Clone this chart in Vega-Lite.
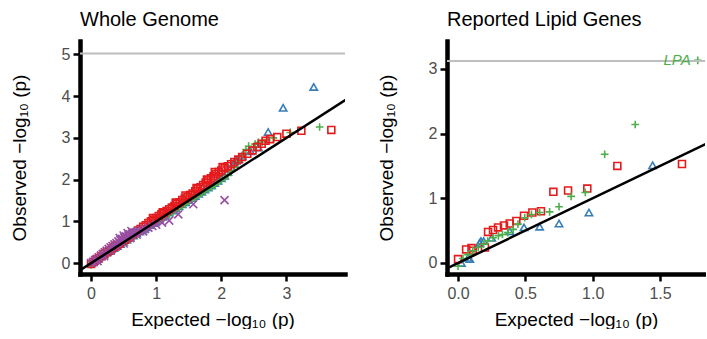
{
  "$schema": "https://vega.github.io/schema/vega-lite/v6.json",
  "padding": {"left": 10, "top": 10, "right": 0, "bottom": 0},
  "background": "white",
  "spacing": 31,
  "config": {
    "view": {"stroke": null},
    "font": "Liberation Sans",
    "axis": {"domainColor": "black", "domainWidth": 4.5, "tickColor": "black", "tickWidth": 2.5, "tickSize": 7, "grid": false}
  },
  "datasets": {
    "diag": [{"e": -1, "o": -1}, {"e": 5, "o": 5}],
    "wg": [
      {"g": "B", "e": 0.00, "o": 0.01}, {"g": "B", "e": 0.05, "o": 0.05}, {"g": "B", "e": 0.10, "o": 0.10}, {"g": "B", "e": 0.15, "o": 0.16},
      {"g": "B", "e": 0.20, "o": 0.21}, {"g": "B", "e": 0.25, "o": 0.26}, {"g": "B", "e": 0.30, "o": 0.31}, {"g": "B", "e": 0.35, "o": 0.36},
      {"g": "B", "e": 0.40, "o": 0.41}, {"g": "B", "e": 0.45, "o": 0.46}, {"g": "B", "e": 0.50, "o": 0.51}, {"g": "B", "e": 0.55, "o": 0.56},
      {"g": "B", "e": 0.60, "o": 0.61}, {"g": "B", "e": 0.65, "o": 0.66}, {"g": "B", "e": 0.70, "o": 0.71}, {"g": "B", "e": 0.75, "o": 0.76},
      {"g": "B", "e": 0.80, "o": 0.81}, {"g": "B", "e": 0.85, "o": 0.86}, {"g": "B", "e": 0.90, "o": 0.91}, {"g": "B", "e": 0.95, "o": 0.96},
      {"g": "B", "e": 1.00, "o": 1.01}, {"g": "B", "e": 1.05, "o": 1.06}, {"g": "B", "e": 1.10, "o": 1.11}, {"g": "B", "e": 1.15, "o": 1.16},
      {"g": "B", "e": 1.20, "o": 1.21}, {"g": "B", "e": 1.25, "o": 1.26}, {"g": "B", "e": 1.30, "o": 1.31}, {"g": "B", "e": 1.35, "o": 1.36},
      {"g": "B", "e": 1.40, "o": 1.41}, {"g": "B", "e": 1.45, "o": 1.46}, {"g": "B", "e": 1.50, "o": 1.51}, {"g": "B", "e": 1.55, "o": 1.56},
      {"g": "B", "e": 1.60, "o": 1.61}, {"g": "B", "e": 1.65, "o": 1.66}, {"g": "B", "e": 1.70, "o": 1.71}, {"g": "B", "e": 1.75, "o": 1.76},
      {"g": "B", "e": 1.80, "o": 1.81}, {"g": "B", "e": 1.85, "o": 1.86}, {"g": "B", "e": 1.90, "o": 1.92}, {"g": "B", "e": 1.95, "o": 1.97},
      {"g": "B", "e": 2.00, "o": 2.03}, {"g": "B", "e": 2.05, "o": 2.09}, {"g": "B", "e": 2.10, "o": 2.18}, {"g": "B", "e": 2.15, "o": 2.30},
      {"g": "B", "e": 2.19, "o": 2.40}, {"g": "B", "e": 2.23, "o": 2.45}, {"g": "B", "e": 2.27, "o": 2.49}, {"g": "B", "e": 2.32, "o": 2.57},
      {"g": "B", "e": 2.45, "o": 2.68}, {"g": "B", "e": 2.57, "o": 2.77}, {"g": "B", "e": 2.72, "o": 3.14}, {"g": "B", "e": 2.95, "o": 3.72},
      {"g": "B", "e": 3.42, "o": 4.22},
      {"g": "C", "e": 0.00, "o": -0.04}, {"g": "C", "e": 0.05, "o": 0.02}, {"g": "C", "e": 0.10, "o": 0.08}, {"g": "C", "e": 0.15, "o": 0.13},
      {"g": "C", "e": 0.20, "o": 0.18}, {"g": "C", "e": 0.25, "o": 0.23}, {"g": "C", "e": 0.30, "o": 0.28}, {"g": "C", "e": 0.35, "o": 0.33},
      {"g": "C", "e": 0.40, "o": 0.38}, {"g": "C", "e": 0.45, "o": 0.43}, {"g": "C", "e": 0.50, "o": 0.48}, {"g": "C", "e": 0.55, "o": 0.53},
      {"g": "C", "e": 0.60, "o": 0.58}, {"g": "C", "e": 0.65, "o": 0.63}, {"g": "C", "e": 0.70, "o": 0.68}, {"g": "C", "e": 0.75, "o": 0.73},
      {"g": "C", "e": 0.80, "o": 0.78}, {"g": "C", "e": 0.85, "o": 0.83}, {"g": "C", "e": 0.90, "o": 0.88}, {"g": "C", "e": 0.95, "o": 0.93},
      {"g": "C", "e": 1.00, "o": 0.98}, {"g": "C", "e": 1.05, "o": 1.02}, {"g": "C", "e": 1.10, "o": 1.07}, {"g": "C", "e": 1.15, "o": 1.12},
      {"g": "C", "e": 1.20, "o": 1.17}, {"g": "C", "e": 1.25, "o": 1.22}, {"g": "C", "e": 1.30, "o": 1.27}, {"g": "C", "e": 1.35, "o": 1.32},
      {"g": "C", "e": 1.40, "o": 1.37}, {"g": "C", "e": 1.45, "o": 1.42}, {"g": "C", "e": 1.50, "o": 1.47}, {"g": "C", "e": 1.55, "o": 1.52},
      {"g": "C", "e": 1.60, "o": 1.57}, {"g": "C", "e": 1.65, "o": 1.62}, {"g": "C", "e": 1.70, "o": 1.67}, {"g": "C", "e": 1.75, "o": 1.72},
      {"g": "C", "e": 1.80, "o": 1.77}, {"g": "C", "e": 1.85, "o": 1.82}, {"g": "C", "e": 1.90, "o": 1.87}, {"g": "C", "e": 1.95, "o": 1.93},
      {"g": "C", "e": 2.00, "o": 1.98}, {"g": "C", "e": 2.05, "o": 2.04}, {"g": "C", "e": 2.10, "o": 2.10}, {"g": "C", "e": 2.15, "o": 2.20},
      {"g": "C", "e": 2.20, "o": 2.30}, {"g": "C", "e": 2.27, "o": 2.45}, {"g": "C", "e": 2.33, "o": 2.60}, {"g": "C", "e": 2.38, "o": 2.72},
      {"g": "C", "e": 2.42, "o": 2.80}, {"g": "C", "e": 2.50, "o": 2.77}, {"g": "C", "e": 2.52, "o": 2.85}, {"g": "C", "e": 2.57, "o": 2.89},
      {"g": "C", "e": 2.63, "o": 2.90}, {"g": "C", "e": 2.70, "o": 2.95}, {"g": "C", "e": 2.80, "o": 3.00}, {"g": "C", "e": 3.06, "o": 3.13},
      {"g": "C", "e": 3.51, "o": 3.26},
      {"g": "A", "e": 0.00, "o": -0.02}, {"g": "A", "e": 0.04, "o": 0.03}, {"g": "A", "e": 0.08, "o": 0.08}, {"g": "A", "e": 0.12, "o": 0.12},
      {"g": "A", "e": 0.16, "o": 0.17}, {"g": "A", "e": 0.20, "o": 0.22}, {"g": "A", "e": 0.24, "o": 0.26}, {"g": "A", "e": 0.28, "o": 0.30},
      {"g": "A", "e": 0.32, "o": 0.35}, {"g": "A", "e": 0.36, "o": 0.39}, {"g": "A", "e": 0.40, "o": 0.43}, {"g": "A", "e": 0.44, "o": 0.47},
      {"g": "A", "e": 0.48, "o": 0.52}, {"g": "A", "e": 0.52, "o": 0.56}, {"g": "A", "e": 0.56, "o": 0.60}, {"g": "A", "e": 0.60, "o": 0.64},
      {"g": "A", "e": 0.64, "o": 0.69}, {"g": "A", "e": 0.68, "o": 0.73}, {"g": "A", "e": 0.72, "o": 0.78}, {"g": "A", "e": 0.76, "o": 0.82},
      {"g": "A", "e": 0.80, "o": 0.87}, {"g": "A", "e": 0.84, "o": 0.91}, {"g": "A", "e": 0.88, "o": 0.96}, {"g": "A", "e": 0.92, "o": 1.00},
      {"g": "A", "e": 0.96, "o": 1.04}, {"g": "A", "e": 1.00, "o": 1.08}, {"g": "A", "e": 1.04, "o": 1.13}, {"g": "A", "e": 1.08, "o": 1.17},
      {"g": "A", "e": 1.12, "o": 1.21}, {"g": "A", "e": 1.16, "o": 1.25}, {"g": "A", "e": 1.20, "o": 1.29}, {"g": "A", "e": 1.24, "o": 1.33},
      {"g": "A", "e": 1.28, "o": 1.37}, {"g": "A", "e": 1.32, "o": 1.42}, {"g": "A", "e": 1.36, "o": 1.46}, {"g": "A", "e": 1.40, "o": 1.51},
      {"g": "A", "e": 1.44, "o": 1.55}, {"g": "A", "e": 1.48, "o": 1.59}, {"g": "A", "e": 1.52, "o": 1.63}, {"g": "A", "e": 1.56, "o": 1.67},
      {"g": "A", "e": 1.60, "o": 1.72}, {"g": "A", "e": 1.64, "o": 1.77}, {"g": "A", "e": 1.68, "o": 1.82}, {"g": "A", "e": 1.72, "o": 1.87},
      {"g": "A", "e": 1.76, "o": 1.93}, {"g": "A", "e": 1.80, "o": 1.98}, {"g": "A", "e": 1.84, "o": 2.03}, {"g": "A", "e": 1.88, "o": 2.08},
      {"g": "A", "e": 1.92, "o": 2.13}, {"g": "A", "e": 1.96, "o": 2.18}, {"g": "A", "e": 2.00, "o": 2.22}, {"g": "A", "e": 2.05, "o": 2.27},
      {"g": "A", "e": 2.10, "o": 2.32}, {"g": "A", "e": 2.15, "o": 2.37}, {"g": "A", "e": 2.20, "o": 2.42}, {"g": "A", "e": 2.26, "o": 2.48},
      {"g": "A", "e": 2.32, "o": 2.54}, {"g": "A", "e": 2.40, "o": 2.62}, {"g": "A", "e": 2.48, "o": 2.70}, {"g": "A", "e": 2.55, "o": 2.78},
      {"g": "A", "e": 2.62, "o": 2.86}, {"g": "A", "e": 2.68, "o": 2.93}, {"g": "A", "e": 2.75, "o": 2.97}, {"g": "A", "e": 2.86, "o": 3.02},
      {"g": "A", "e": 3.00, "o": 3.10}, {"g": "A", "e": 3.23, "o": 3.17}, {"g": "A", "e": 3.69, "o": 3.19},
      {"g": "A", "e": 1.30, "o": 1.45}, {"g": "A", "e": 1.45, "o": 1.62}, {"g": "A", "e": 1.62, "o": 1.80}, {"g": "A", "e": 1.78, "o": 2.00},
      {"g": "A", "e": 1.90, "o": 2.18}, {"g": "A", "e": 2.02, "o": 2.30}, {"g": "A", "e": 1.10, "o": 1.22}, {"g": "A", "e": 0.95, "o": 1.08},
      {"g": "D", "e": 0.00, "o": 0.00}, {"g": "D", "e": 0.03, "o": 0.03}, {"g": "D", "e": 0.06, "o": 0.07}, {"g": "D", "e": 0.09, "o": 0.10},
      {"g": "D", "e": 0.12, "o": 0.14}, {"g": "D", "e": 0.15, "o": 0.18}, {"g": "D", "e": 0.18, "o": 0.22}, {"g": "D", "e": 0.21, "o": 0.26},
      {"g": "D", "e": 0.24, "o": 0.30}, {"g": "D", "e": 0.27, "o": 0.34}, {"g": "D", "e": 0.30, "o": 0.38}, {"g": "D", "e": 0.33, "o": 0.41},
      {"g": "D", "e": 0.36, "o": 0.45}, {"g": "D", "e": 0.39, "o": 0.48}, {"g": "D", "e": 0.42, "o": 0.52}, {"g": "D", "e": 0.45, "o": 0.55},
      {"g": "D", "e": 0.48, "o": 0.58}, {"g": "D", "e": 0.51, "o": 0.61}, {"g": "D", "e": 0.54, "o": 0.64}, {"g": "D", "e": 0.57, "o": 0.66},
      {"g": "D", "e": 0.60, "o": 0.69}, {"g": "D", "e": 0.63, "o": 0.71}, {"g": "D", "e": 0.66, "o": 0.73}, {"g": "D", "e": 0.70, "o": 0.75},
      {"g": "D", "e": 0.74, "o": 0.77}, {"g": "D", "e": 0.78, "o": 0.79}, {"g": "D", "e": 0.83, "o": 0.82}, {"g": "D", "e": 0.88, "o": 0.85},
      {"g": "D", "e": 0.94, "o": 0.89}, {"g": "D", "e": 1.00, "o": 0.92}, {"g": "D", "e": 1.09, "o": 0.97}, {"g": "D", "e": 1.20, "o": 1.02},
      {"g": "D", "e": 1.34, "o": 1.17}, {"g": "D", "e": 1.57, "o": 1.41}, {"g": "D", "e": 2.05, "o": 1.51},
      {"g": "D", "e": 0.10, "o": 0.05}, {"g": "D", "e": 0.20, "o": 0.17}, {"g": "D", "e": 0.30, "o": 0.30}, {"g": "D", "e": 0.38, "o": 0.40},
      {"g": "D", "e": 0.44, "o": 0.60}, {"g": "D", "e": 0.50, "o": 0.66}, {"g": "D", "e": 0.56, "o": 0.72}, {"g": "D", "e": 0.62, "o": 0.77},
      {"g": "D", "e": 0.50, "o": 0.47}, {"g": "D", "e": 0.60, "o": 0.60}, {"g": "D", "e": 0.70, "o": 0.68}, {"g": "D", "e": 0.80, "o": 0.76}
    ],
    "lipid": [
      {"g": "B", "e": 0.025, "o": 0.00}, {"g": "B", "e": 0.074, "o": 0.08}, {"g": "B", "e": 0.087, "o": 0.06}, {"g": "B", "e": 0.16, "o": 0.31},
      {"g": "B", "e": 0.17, "o": 0.34}, {"g": "B", "e": 0.19, "o": 0.34}, {"g": "B", "e": 0.25, "o": 0.39}, {"g": "B", "e": 0.384, "o": 0.49},
      {"g": "B", "e": 0.49, "o": 0.55}, {"g": "B", "e": 0.606, "o": 0.56}, {"g": "B", "e": 0.75, "o": 0.61}, {"g": "B", "e": 0.972, "o": 0.78},
      {"g": "B", "e": 1.445, "o": 1.51},
      {"g": "A", "e": 0.00, "o": 0.06}, {"g": "A", "e": 0.06, "o": 0.21}, {"g": "A", "e": 0.10, "o": 0.23}, {"g": "A", "e": 0.11, "o": 0.19},
      {"g": "A", "e": 0.20, "o": 0.24}, {"g": "A", "e": 0.223, "o": 0.48}, {"g": "A", "e": 0.26, "o": 0.51}, {"g": "A", "e": 0.297, "o": 0.55},
      {"g": "A", "e": 0.341, "o": 0.58}, {"g": "A", "e": 0.384, "o": 0.61}, {"g": "A", "e": 0.433, "o": 0.65}, {"g": "A", "e": 0.49, "o": 0.73},
      {"g": "A", "e": 0.552, "o": 0.78}, {"g": "A", "e": 0.616, "o": 0.80}, {"g": "A", "e": 0.708, "o": 1.10}, {"g": "A", "e": 0.817, "o": 1.12},
      {"g": "A", "e": 0.96, "o": 1.15}, {"g": "A", "e": 1.183, "o": 1.50}, {"g": "A", "e": 1.663, "o": 1.53},
      {"g": "C", "e": 0.00, "o": -0.05}, {"g": "C", "e": 0.037, "o": 0.07}, {"g": "C", "e": 0.074, "o": 0.13}, {"g": "C", "e": 0.11, "o": 0.19},
      {"g": "C", "e": 0.15, "o": 0.24}, {"g": "C", "e": 0.19, "o": 0.29}, {"g": "C", "e": 0.22, "o": 0.34}, {"g": "C", "e": 0.26, "o": 0.39},
      {"g": "C", "e": 0.30, "o": 0.42}, {"g": "C", "e": 0.33, "o": 0.44}, {"g": "C", "e": 0.37, "o": 0.47}, {"g": "C", "e": 0.41, "o": 0.52},
      {"g": "C", "e": 0.445, "o": 0.60}, {"g": "C", "e": 0.495, "o": 0.70}, {"g": "C", "e": 0.545, "o": 0.75}, {"g": "C", "e": 0.606, "o": 0.78},
      {"g": "C", "e": 0.68, "o": 0.79}, {"g": "C", "e": 0.75, "o": 0.87}, {"g": "C", "e": 0.84, "o": 1.03}, {"g": "C", "e": 0.945, "o": 1.09},
      {"g": "C", "e": 1.089, "o": 1.68}, {"g": "C", "e": 1.316, "o": 2.14}, {"g": "C", "e": 1.78, "o": 3.13}
    ],
    "lpa": [{"e": 1.78, "o": 3.13, "label": "LPA"}],
    "thrWG": [{"o": 5.02}],
    "thrLip": [{"o": 3.12}]
  },
  "hconcat": [
    {
      "title": {"text": "Whole Genome", "frame": "group", "fontSize": 20, "fontWeight": "normal", "anchor": "start", "font": "Liberation Sans", "color": "black", "offset": 11},
      "width": 265,
      "height": 233,
      "layer": [
        {
          "data": {"name": "wg"},
          "mark": {"type": "point", "filled": false, "strokeWidth": 1.6, "opacity": 1},
          "encoding": {
            "x": {"field": "e", "type": "quantitative", "scale": {"domain": [-0.17, 3.9], "nice": false, "zero": false},
                  "axis": {"values": [0, 1, 2, 3], "format": ".0f", "title": "Expected −log₁₀ (p)", "grid": false,
                           "domainColor": "black", "domainWidth": 4.5, "domainCap": "square", "tickColor": "black", "tickWidth": 2.5, "tickSize": 7,
                           "labelColor": "#4D4D4D", "labelFont": "Liberation Sans", "labelFontSize": 16, "labelPadding": 4,
                           "titleFont": "Liberation Sans", "titleFontSize": 19, "titleFontWeight": "normal", "titleColor": "black", "titlePadding": 9}},
            "y": {"field": "o", "type": "quantitative", "scale": {"domain": [-0.26, 5.32], "nice": false, "zero": false},
                  "axis": {"values": [0, 1, 2, 3, 4, 5], "format": ".0f", "title": "Observed −log₁₀ (p)", "grid": false,
                           "domainColor": "black", "domainWidth": 4.5, "domainCap": "square", "tickColor": "black", "tickWidth": 2.5, "tickSize": 7,
                           "labelColor": "#4D4D4D", "labelFont": "Liberation Sans", "labelFontSize": 16, "labelPadding": 3,
                           "titleFont": "Liberation Sans", "titleFontSize": 19, "titleFontWeight": "normal", "titleColor": "black", "titlePadding": 32}},
            "color": {"field": "g", "type": "nominal", "legend": null,
                      "scale": {"domain": ["A", "B", "C", "D"], "range": ["#E41A1C", "#377EB8", "#4DAF4A", "#984EA3"]}},
            "shape": {"field": "g", "type": "nominal", "legend": null,
                      "scale": {"domain": ["A", "B", "C", "D"], "range": ["square", "triangle-up", "M-1,0L1,0M0,-1L0,1", "M-1,-1L1,1M-1,1L1,-1"]}},
            "size": {"field": "g", "type": "nominal", "legend": null,
                     "scale": {"domain": ["A", "B", "C", "D"], "range": [48, 65, 140, 60]}}
          }
        },
        {
          "data": {"name": "thrWG"},
          "mark": {"type": "rule", "color": "#BEBEBE", "strokeWidth": 2},
          "encoding": {"y": {"field": "o", "type": "quantitative"}}
        },
        {
          "data": {"name": "diag"},
          "mark": {"type": "line", "color": "black", "strokeWidth": 2.5, "clip": true},
          "encoding": {
            "x": {"field": "e", "type": "quantitative"},
            "y": {"field": "o", "type": "quantitative"}
          }
        }
      ]
    },
    {
      "title": {"text": "Reported Lipid Genes", "frame": "group", "fontSize": 20, "fontWeight": "normal", "anchor": "start", "font": "Liberation Sans", "color": "black", "offset": 11},
      "width": 258,
      "height": 233,
      "layer": [
        {
          "data": {"name": "lipid"},
          "mark": {"type": "point", "filled": false, "strokeWidth": 1.6, "opacity": 1},
          "encoding": {
            "x": {"field": "e", "type": "quantitative", "scale": {"domain": [-0.082, 1.834], "nice": false, "zero": false},
                  "axis": {"values": [0, 0.5, 1, 1.5], "format": ".1f", "title": "Expected −log₁₀ (p)", "grid": false,
                           "domainColor": "black", "domainWidth": 4.5, "domainCap": "square", "tickColor": "black", "tickWidth": 2.5, "tickSize": 7,
                           "labelColor": "#4D4D4D", "labelFont": "Liberation Sans", "labelFontSize": 16, "labelPadding": 4,
                           "titleFont": "Liberation Sans", "titleFontSize": 19, "titleFontWeight": "normal", "titleColor": "black", "titlePadding": 9}},
            "y": {"field": "o", "type": "quantitative", "scale": {"domain": [-0.17, 3.43], "nice": false, "zero": false},
                  "axis": {"values": [0, 1, 2, 3], "format": ".0f", "title": "Observed −log₁₀ (p)", "grid": false,
                           "domainColor": "black", "domainWidth": 4.5, "domainCap": "square", "tickColor": "black", "tickWidth": 2.5, "tickSize": 7,
                           "labelColor": "#4D4D4D", "labelFont": "Liberation Sans", "labelFontSize": 16, "labelPadding": 3,
                           "titleFont": "Liberation Sans", "titleFontSize": 19, "titleFontWeight": "normal", "titleColor": "black", "titlePadding": 32}},
            "color": {"field": "g", "type": "nominal", "legend": null,
                      "scale": {"domain": ["A", "B", "C", "D"], "range": ["#E41A1C", "#377EB8", "#4DAF4A", "#984EA3"]}},
            "shape": {"field": "g", "type": "nominal", "legend": null,
                      "scale": {"domain": ["A", "B", "C", "D"], "range": ["square", "triangle-up", "M-1,0L1,0M0,-1L0,1", "M-1,-1L1,1M-1,1L1,-1"]}},
            "size": {"field": "g", "type": "nominal", "legend": null,
                     "scale": {"domain": ["A", "B", "C", "D"], "range": [48, 65, 140, 60]}}
          }
        },
        {
          "data": {"name": "thrLip"},
          "mark": {"type": "rule", "color": "#BEBEBE", "strokeWidth": 2},
          "encoding": {"y": {"field": "o", "type": "quantitative"}}
        },
        {
          "data": {"name": "diag"},
          "mark": {"type": "line", "color": "black", "strokeWidth": 2.5, "clip": true},
          "encoding": {
            "x": {"field": "e", "type": "quantitative"},
            "y": {"field": "o", "type": "quantitative"}
          }
        },
        {
          "data": {"name": "lpa"},
          "mark": {"type": "text", "align": "right", "baseline": "middle", "dx": -7, "fontStyle": "italic", "fontSize": 15, "color": "#4DAF4A", "font": "Liberation Sans"},
          "encoding": {
            "x": {"field": "e", "type": "quantitative"},
            "y": {"field": "o", "type": "quantitative"},
            "text": {"field": "label"}
          }
        }
      ]
    }
  ]
}
